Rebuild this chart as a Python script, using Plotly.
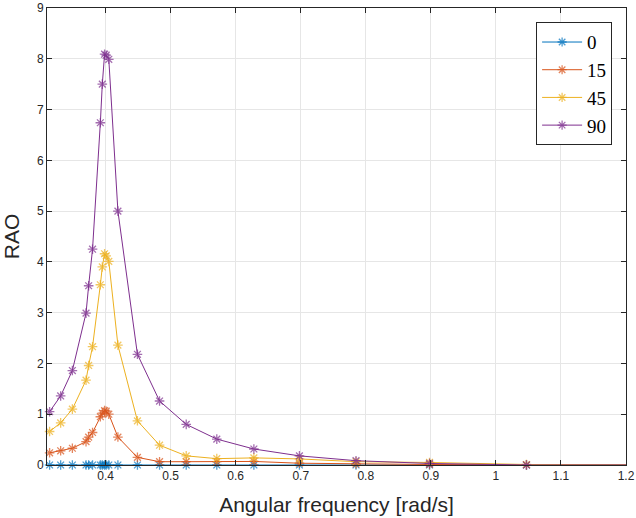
import plotly.graph_objects as go

freq = [0.314, 0.331, 0.349, 0.370, 0.374, 0.380, 0.392, 0.395, 0.3985, 0.401, 0.405,
        0.419, 0.449, 0.483, 0.524, 0.571, 0.628, 0.698, 0.785, 0.898, 1.047, 1.257]

rao_0 = [0.0] * 22
rao_15 = [0.24, 0.28, 0.33, 0.46, 0.55, 0.64, 0.95, 1.02, 1.07, 1.06, 1.00,
          0.55, 0.15, 0.065, 0.065, 0.065, 0.07, 0.035, 0.02, 0.01, 0.005, 0.0]
rao_45 = [0.66, 0.83, 1.10, 1.67, 1.96, 2.33, 3.55, 3.90, 4.16, 4.12, 4.01,
          2.36, 0.87, 0.39, 0.18, 0.125, 0.14, 0.12, 0.065, 0.05, 0.01, 0.0]
rao_90 = [1.05, 1.36, 1.86, 2.99, 3.53, 4.25, 6.74, 7.50, 8.09, 8.07, 7.99,
          5.00, 2.18, 1.26, 0.80, 0.51, 0.315, 0.18, 0.085, 0.03, 0.0, 0.0]

names = ["0", "15", "45", "90"]
series = [rao_0, rao_15, rao_45, rao_90]
colors = ["#0072BD", "#D95319", "#EDB120", "#7E2F8E"]

x_ticks = [0.4, 0.5, 0.6, 0.7, 0.8, 0.9, 1.0, 1.1, 1.2]
x_tick_labels = ["0.4", "0.5", "0.6", "0.7", "0.8", "0.9", "1", "1.1", "1.2"]
y_ticks = list(range(0, 10))

X_MAX = 1.2

fig = go.Figure()
for name, vals, col in zip(names, series, colors):
    sizes = [8 if f <= X_MAX else 0 for f in freq]
    fig.add_trace(go.Scatter(
        x=freq, y=vals, name=name, mode="lines+markers",
        line=dict(color=col, width=1),
        marker=dict(symbol="asterisk-open", size=sizes, color=col,
                    line=dict(color=col, width=1.3)),
        cliponaxis=False,
    ))

axis_common = dict(
    showline=True, linecolor="#262626", linewidth=1, mirror="ticks",
    ticks="inside", ticklen=5, tickcolor="#262626",
    showgrid=True, gridcolor="#e6e6e6", gridwidth=1, zeroline=False,
    automargin=False,
    tickfont=dict(family="Liberation Sans, Arial", size=12, color="#262626"),
)

fig.update_xaxes(range=[0.31, X_MAX], tickvals=x_ticks, ticktext=x_tick_labels,
                 title=dict(text="Angular frequency [rad/s]", standoff=14,
                            font=dict(family="Liberation Sans, Arial", size=21, color="#262626")),
                 **axis_common)
fig.update_yaxes(range=[0, 9], tickvals=y_ticks,
                 title=dict(text="RAO", standoff=12,
                            font=dict(family="Liberation Sans, Arial", size=21, color="#262626")),
                 **axis_common)

fig.update_layout(
    width=636, height=518,
    margin=dict(l=47, r=10, t=8, b=53),
    plot_bgcolor="white", paper_bgcolor="white",
    legend=dict(x=0.976, y=0.969, xanchor="right", yanchor="top",
                bgcolor="white", bordercolor="#262626", borderwidth=1,
                font=dict(family="Liberation Serif, DejaVu Serif", size=19, color="black"),
                itemwidth=40, tracegroupgap=0),
    showlegend=True,
)

fig.write_html("out.html")
